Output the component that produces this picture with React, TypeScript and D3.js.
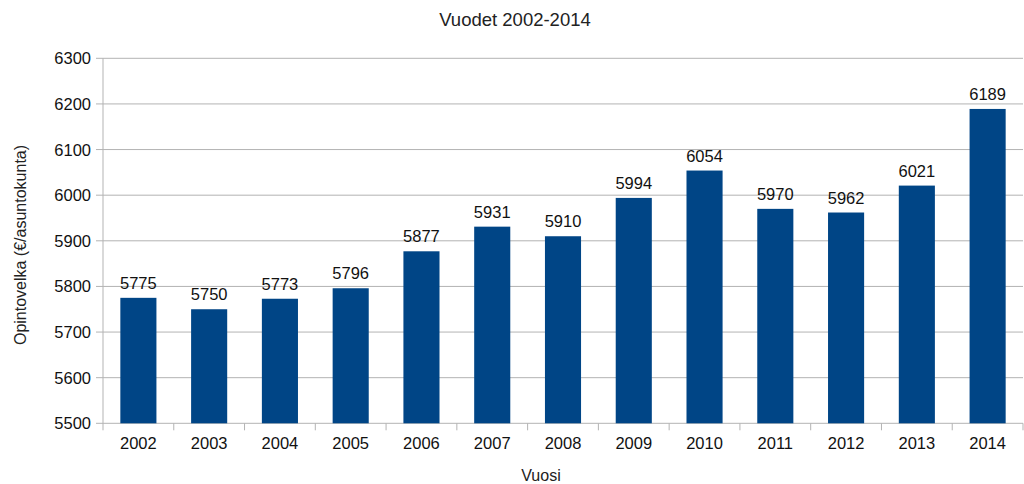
import React from "react";
import * as d3 from "d3";

const years = ["2002","2003","2004","2005","2006","2007","2008","2009","2010","2011","2012","2013","2014"];
const values = [5775,5750,5773,5796,5877,5931,5910,5994,6054,5970,5962,6021,6189];
const yTicks = [5500,5600,5700,5800,5900,6000,6100,6200,6300];

const W = 1024, H = 484;
const left = 103, right = 1023, top = 58.3, bottom = 423.3;

export default function App() {
  const x = d3.scaleBand<string>().domain(years).range([left, right]).paddingInner(0).paddingOuter(0);
  const y = d3.scaleLinear().domain([5500, 6300]).range([bottom, top]);
  const bw = x.bandwidth() * 0.51;
  const font = "'Liberation Sans', Arial, sans-serif";
  const fs = 16.5;
  return (
    <svg width={W} height={H} style={{ position: "absolute", left: 0, top: 0 }} fontFamily={font}>
      <rect width={W} height={H} fill="#fff" />
      <text x={515} y={26} textAnchor="middle" fontSize={18.5} fill="#222">Vuodet 2002-2014</text>
      {yTicks.map(t => (
        <g key={t}>
          <line x1={left} x2={right} y1={y(t)} y2={y(t)} stroke="#b3b3b3" strokeWidth={1} />
          <line x1={left - 7} x2={left} y1={y(t)} y2={y(t)} stroke="#b3b3b3" strokeWidth={1} />
          <text x={left - 12} y={y(t) + 6} textAnchor="end" fontSize={fs} fill="#111">{t}</text>
        </g>
      ))}
      <line x1={left} x2={left} y1={top} y2={bottom} stroke="#b3b3b3" strokeWidth={1} />
      {years.map((yr) => (
        <line key={"t" + yr} x1={x(yr)!} x2={x(yr)!} y1={bottom} y2={bottom + 7} stroke="#b3b3b3" />
      ))}
      <line x1={right} x2={right} y1={bottom} y2={bottom + 7} stroke="#b3b3b3" />
      {years.map((yr, i) => {
        const cx = x(yr)! + x.bandwidth() / 2;
        return (
          <g key={yr}>
            <rect x={cx - bw / 2} y={y(values[i])} width={bw} height={bottom - y(values[i])} fill="#004586" />
            <text x={cx} y={y(values[i]) - 9} textAnchor="middle" fontSize={fs} fill="#111">{values[i]}</text>
            <text x={cx} y={bottom + 26} textAnchor="middle" fontSize={fs} fill="#111">{yr}</text>
          </g>
        );
      })}
      <text x={541} y={481} textAnchor="middle" fontSize={16} fill="#222">Vuosi</text>
      <text transform={`translate(26,245) rotate(-90)`} textAnchor="middle" fontSize={16} fill="#222">Opintovelka (€/asuntokunta)</text>
    </svg>
  );
}
